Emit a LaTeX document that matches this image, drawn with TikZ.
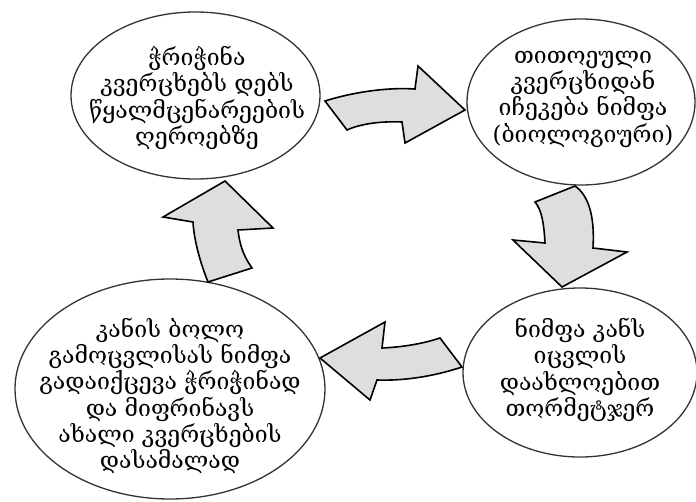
\documentclass[tikz,border=0pt]{standalone}
\usepackage{fontspec}
\newfontfamily\geofont{DejaVu Serif}
\usetikzlibrary{shapes.geometric}
\tikzset{
  stage/.style={ellipse, draw=black!80, line width=1.3pt, inner sep=0pt},
  stagetext/.style={align=center, font=\geofont\fontsize{23}{26.3}\selectfont, inner sep=0pt},
  cyclearrow/.style={draw=black, fill=black!13, line width=1.6pt, line join=miter}
}
\begin{document}
\begin{tikzpicture}[x=1pt, y=-1pt]
  \useasboundingbox (0,0) rectangle (696,501);
  \fill[white] (0,0) rectangle (696,501);

  % the four stages of the cycle
  \node[stage, minimum width=249pt, minimum height=167pt] (s1) at (195.5,95.5) {};
  \node[stage, minimum width=228pt, minimum height=166pt] (s2) at (581,102) {};
  \node[stage, minimum width=234pt, minimum height=169pt] (s3) at (580,372.5) {};
  \node[stage, minimum width=310pt, minimum height=220pt] (s4) at (170,389) {};

  \node[stagetext] (t1) at (197,98) {ჭრიჭინა\\კვერცხებს დებს\\წყალმცენარეების\\ღეროებზე};
  \node[stagetext] (t2) at (583,99) {თითოეული\\კვერცხიდან\\იჩეკება ნიმფა\\(ბიოლოგიური)};
  \node[stagetext] (t3) at (580,370) {ნიმფა კანს\\იცვლის\\დაახლოებით\\თორმეტჯერ};
  \node[stagetext] (t4) at (170,396) {კანის ბოლო\\გამოცვლისას ნიმფა\\გადაიქცევა ჭრიჭინად\\და მიფრინავს\\ახალი კვერცხების\\დასამალად};

  % block arrows between the stages
  \draw[cyclearrow] (325,101) .. controls (350,93) and (385,87) .. (415,89)
    -- (418,66) -- (465,110) -- (405,143) -- (402,122)
    .. controls (380,121) and (360,124) .. (347,130) -- cycle;
  \draw[cyclearrow] (535,202) -- (575,186)
    .. controls (588,195) and (595,215) .. (593,248)
    -- (627,252) -- (562,287) -- (513,240) -- (545,243)
    .. controls (544,225) and (542,210) .. (535,202) -- cycle;
  \draw[cyclearrow] (320,358) -- (385,322) -- (382,348)
    .. controls (405,347) and (425,343) .. (440,338)
    -- (462,367) .. controls (435,376) and (405,381) .. (377,380)
    -- (370,400) -- cycle;
  \draw[cyclearrow] (225,181) -- (273,228) -- (238,230)
    .. controls (240,248) and (245,258) .. (252,268)
    -- (208,282) .. controls (200,262) and (194,240) .. (193,222)
    -- (163,217) -- cycle;
\end{tikzpicture}
\end{document}
